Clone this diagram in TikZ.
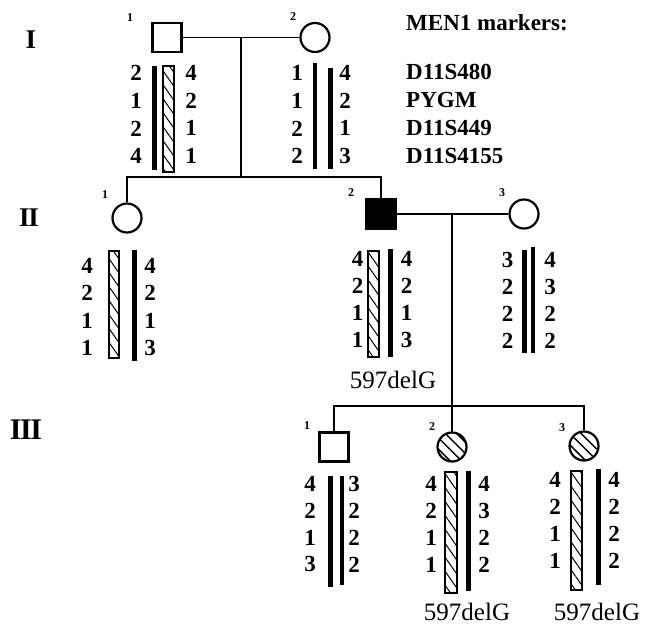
\documentclass[tikz,border=0pt]{standalone}
\usepackage{fontspec}
\setmainfont{Liberation Serif}
\usetikzlibrary{patterns.meta}
\tikzset{
  male/.style={
    shape = rectangle,
    draw,
    line width = 2.4pt,
    minimum size = 29pt,
    inner sep = 0pt
  },
  female/.style={
    shape = circle,
    draw,
    line width = 2.2pt,
    minimum size = 29pt,
    inner sep = 0pt
  },
  affected/.style={fill},
  carrier/.style={
    pattern={Lines[angle=-45,distance=8pt,line width=1.5pt]}
  },
  hatchbar/.style={
    draw,
    line width = 1.2pt,
    pattern={Lines[angle=-55,distance=8pt,line width=1pt]}
  },
  thickbar/.style={line width=5pt},
  thinbar/.style={line width=3.5pt},
  link/.style={line width=1.8pt},
  allele/.style={inner sep=0pt, font=\fontsize{23}{23}\selectfont\bfseries},
  marker/.style={inner sep=0pt, anchor=west, font=\fontsize{23}{23}\selectfont\bfseries},
  idlabel/.style={inner sep=0pt, font=\fontsize{12}{12}\selectfont\bfseries},
  generation/.style={inner sep=0pt, font=\fontsize{27}{27}\selectfont\bfseries},
  mutation/.style={inner sep=0pt, font=\fontsize{25}{25}\selectfont}
}

\begin{document}
\begin{tikzpicture}[x=1pt,y=-1pt]
  \useasboundingbox (0,0) rectangle (652,633);

  % generations
  \node[generation] (genI) at (31,40) {I};
  \node[generation] (genII) at (29,218) {I\kern-1.5ptI};
  \node[generation,font=\fontsize{30}{30}\selectfont\bfseries] (genIII) at (26,430) {I\kern-1.5ptI\kern-1.5ptI};

  % individuals
  \node[male] (I1) at (167,37.5) {};
  \node[female] (I2) at (315,37.5) {};
  \node[female] (II1) at (127,218) {};
  \node[male,affected] (II2) at (381,214) {};
  \node[female] (II3) at (524,214) {};
  \node[male] (III1) at (334,447) {};
  \node[female,carrier] (III2) at (452,447) {};
  \node[female,carrier] (III3) at (584,446) {};

  \node[idlabel] (I1n) at (130,17.5) {1};
  \node[idlabel] (I2n) at (293,17) {2};
  \node[idlabel] (II1n) at (105,195) {1};
  \node[idlabel] (II2n) at (351,193) {2};
  \node[idlabel] (II3n) at (502,193) {3};
  \node[idlabel] (III1n) at (307,426) {1};
  \node[idlabel] (III2n) at (432,427) {2};
  \node[idlabel] (III3n) at (562,428) {3};

  % lines of descent
  \coordinate (m1) at (241,37.5);
  \coordinate (s1) at (241,177);
  \coordinate (m2) at (452,214);
  \coordinate (s2) at (452,406);
  \draw[link] (I1) -- (I2);
  \draw[link] (m1) -- (s1);
  \draw[link] (II1.north) -- (II1.north |- s1) -- (II2.north |- s1) -- (II2.north);
  \draw[link] (II2) -- (II3);
  \draw[link] (m2) -- (s2);
  \draw[link] (III1.north) -- (III1.north |- s2) -- (III3.north |- s2) -- (III3.north);
  \draw[link] (s2) -- (III2.north);

  % haplotype bars
  \draw[thickbar] (154.5,66) -- (154.5,170);
  \draw[hatchbar] (163,66) rectangle (174,172);
  \draw[thinbar] (315,63) -- (315,169);
  \draw[thickbar] (330,68) -- (330,169);
  \draw[hatchbar] (109,251) rectangle (119,358);
  \draw[thickbar] (134.5,250) -- (134.5,361);
  \draw[hatchbar] (368,251) rectangle (379,357);
  \draw[thickbar] (390.5,249) -- (390.5,357);
  \draw[thickbar] (524.5,250) -- (524.5,353);
  \draw[thinbar] (533,247) -- (533,353);
  \draw[thickbar] (330.5,476) -- (330.5,587);
  \draw[thinbar] (342,476) -- (342,585);
  \draw[hatchbar] (445,472) rectangle (457,593);
  \draw[thickbar] (468,471) -- (468,591);
  \draw[hatchbar] (571,471) rectangle (582,590);
  \draw[thickbar] (598,469) -- (598,585);

  % alleles
  \foreach \who/\xl/\xr/\yo/\dy/\la/\lb in {
      I1/136/191/73/27.7/{2,1,2,4}/{4,2,1,1},
      I2/297/345/73/27.7/{1,1,2,2}/{4,2,1,3},
      II1/87/150/266/27.3/{4,2,1,1}/{4,2,1,3},
      II2/357.5/406.5/258.5/27.2/{4,2,1,1}/{4,2,1,3},
      II3/507.5/550/259.5/27.2/{3,2,2,2}/{4,3,2,2},
      III1/310/354/484/26.8/{4,2,1,3}/{3,2,2,2},
      III2/431/484/484/27/{4,2,1,1}/{4,3,2,2},
      III3/555/614/480/27/{4,2,1,1}/{4,2,2,2}} {
    \foreach \a [count=\i] in \la
      \node[allele] (\who a\i) at (\xl,\yo+\i*\dy-\dy) {\a};
    \foreach \b [count=\i] in \lb
      \node[allele] (\who b\i) at (\xr,\yo+\i*\dy-\dy) {\b};
  }

  % markers
  \node[marker] (title) at (406,22.5) {MEN1 markers:};
  \foreach \m [count=\i] in {D11S480,PYGM,D11S449,D11S4155}
    \node[marker] (mk\i) at (406,72+\i*27.9-27.9) {\m};

  % mutation carriers
  \node[mutation] (mutII2) at (393,379.5) {597delG};
  \node[mutation] (mutIII2) at (467,612) {597delG};
  \node[mutation] (mutIII3) at (597,612) {597delG};
\end{tikzpicture}
\end{document}
